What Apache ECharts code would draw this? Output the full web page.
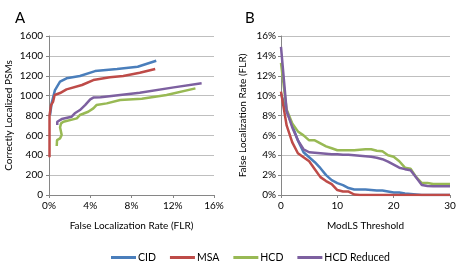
<!DOCTYPE html>
<html lang="en" style="height: 100%">
<head>
<meta charset="utf-8">
<title>FLR charts</title>
</head>
<body style="height: 100%; margin: 0; background: #fff">
<div id="container" style="width: 468px; height: 266px"></div>
<script type="text/javascript" src="https://cdn.jsdelivr.net/npm/echarts@6/dist/echarts.min.js"></script>
<script type="text/javascript">
// Panel A: [FLR %, correctly localized PSMs]
var cidA = [[0.1, 805], [0.26, 925], [0.58, 1056], [1.07, 1140], [1.7, 1174], [3.0, 1197], [4.47, 1247], [6.6, 1268], [8.6, 1290], [10.4, 1351]];
var msaA = [[0.05, 380], [0.05, 800], [0.2, 905], [0.4, 940], [0.55, 1006], [1.07, 1026], [1.7, 1063], [3.2, 1107], [4.3, 1157], [5.9, 1184], [7.2, 1197], [8.8, 1230], [10.3, 1268]];
var hcdA = [[0.75, 493], [0.78, 553], [1.07, 570], [1.23, 604], [1.07, 681], [1.17, 721], [1.4, 737], [2.7, 771], [3.0, 805], [3.8, 838], [4.3, 872], [4.6, 905], [5.6, 922], [6.9, 956], [9.0, 969], [11.4, 1006], [14.2, 1073]];
var hcdRedA = [[0.8, 704], [0.8, 737], [1.23, 764], [2.2, 788], [2.5, 822], [3.0, 855], [3.5, 905], [4.0, 963], [4.3, 980], [5.0, 983], [8.8, 1029], [12.1, 1083], [14.8, 1124]];

// Panel B: FLR % at ModLS threshold 0..30
var thresholds = [];
for (var t = 0; t <= 30; t++) thresholds.push(t);
var cidB = [10.2, 8.4, 7.0, 5.5, 4.3, 3.8, 3.3, 2.7, 2.0, 1.5, 1.2, 1.0, 0.7, 0.55, 0.55, 0.55, 0.5, 0.45, 0.45, 0.35, 0.25, 0.25, 0.15, 0.1, 0.05, 0, 0, 0, 0, 0, 0];
var msaB = [10.4, 7.0, 5.3, 4.2, 3.8, 3.4, 2.6, 1.8, 1.4, 1.1, 0.5, 0.35, 0.35, 0.05, 0, 0, 0, 0, 0, 0, 0, 0, 0, 0, 0, 0, 0, 0, 0, 0, 0];
var hcdB = [13.3, 8.6, 7.2, 6.4, 6.0, 5.5, 5.5, 5.2, 4.9, 4.7, 4.5, 4.5, 4.5, 4.5, 4.55, 4.6, 4.6, 4.45, 4.4, 4.0, 3.85, 3.4, 2.75, 2.65, 1.8, 1.2, 1.2, 1.1, 1.1, 1.1, 1.1];
var hcdRedB = [14.9, 8.5, 6.8, 5.5, 4.6, 4.3, 4.25, 4.2, 4.15, 4.1, 4.1, 4.05, 4.05, 4.0, 3.95, 3.9, 3.85, 3.75, 3.6, 3.35, 3.05, 2.75, 2.6, 2.5, 1.75, 1.0, 0.9, 0.88, 0.88, 0.88, 0.88];

var names = ['CID', 'MSA', 'HCD', 'HCD Reduced'];
var colors = ['#4a7ebb', '#be4b48', '#98b954', '#7d60a0'];

var FONT = 'Lato';
var txt = { color: '#000', fontFamily: FONT, fontSize: 10 };

function pairs(ys) {
    return ys.map(function (y, i) { return [thresholds[i], y]; });
}

function axisBase(extra) {
    var a = {
        type: 'value',
        axisLine: { show: true, lineStyle: { color: '#868686', width: 1 } },
        axisTick: { show: true, length: 3, lineStyle: { color: '#868686' } },
        axisLabel: Object.assign({ margin: 5 }, txt),
        nameTextStyle: Object.assign({}, txt),
        splitLine: { show: false }
    };
    return Object.assign(a, extra);
}

var dom = document.getElementById('container');
var myChart = echarts.init(dom, null, { renderer: 'canvas' });

var seriesA = [cidA, msaA, hcdA, hcdRedA];
var seriesB = [cidB, msaB, hcdB, hcdRedB];
var series = [];
names.forEach(function (n, i) {
    series.push({
        name: n, type: 'line', xAxisIndex: 0, yAxisIndex: 0,
        data: seriesA[i], showSymbol: false, symbol: 'none',
        lineStyle: { width: 2.5, color: colors[i] }, itemStyle: { color: colors[i] }
    });
});
names.forEach(function (n, i) {
    series.push({
        name: n, type: 'line', xAxisIndex: 1, yAxisIndex: 1,
        data: pairs(seriesB[i]), showSymbol: false, symbol: 'none',
        lineStyle: { width: 2.5, color: colors[i] }, itemStyle: { color: colors[i] }
    });
});

var option = {
    animation: false,
    color: colors,
    title: [
        { text: 'A', left: 10, top: 6, textStyle: { fontFamily: FONT, fontSize: 15, fontWeight: 'normal', color: '#000' } },
        { text: 'B', left: 240, top: 6, textStyle: { fontFamily: FONT, fontSize: 15, fontWeight: 'normal', color: '#000' } }
    ],
    legend: {
        top: 247, left: 106,
        icon: 'rect', itemWidth: 25, itemHeight: 3, itemGap: 14,
        textStyle: Object.assign({ padding: [0, 0, 0, -3] }, txt, { fontSize: 10.5 }),
        data: names
    },
    grid: [
        { left: 49, right: 254, top: 36, bottom: 71 },
        { left: 281, right: 18, top: 36, bottom: 71 }
    ],
    xAxis: [
        axisBase({
            gridIndex: 0, min: 0, max: 16, interval: 4,
            name: 'False Localization Rate (FLR)', nameLocation: 'middle', nameGap: 26,
            axisLabel: Object.assign({ margin: 6, formatter: '{value}%' }, txt)
        }),
        axisBase({
            gridIndex: 1, min: 0, max: 30, interval: 10,
            name: 'ModLS Threshold', nameLocation: 'middle', nameGap: 26,
            axisLabel: Object.assign({ margin: 6 }, txt)
        })
    ],
    yAxis: [
        axisBase({
            gridIndex: 0, min: 0, max: 1600, interval: 200,
            name: 'Correctly Localized PSMs', nameLocation: 'middle', nameGap: 35,
            axisLabel: Object.assign({ margin: 6, formatter: function (v) { return String(v); } }, txt),
            splitLine: { show: true, lineStyle: { color: '#bfbfbf', width: 1 } }
        }),
        axisBase({
            gridIndex: 1, min: 0, max: 16, interval: 2,
            name: 'False Localization Rate (FLR)', nameLocation: 'middle', nameGap: 33,
            axisLabel: Object.assign({ margin: 5, formatter: '{value}%' }, txt),
            splitLine: { show: true, lineStyle: { color: '#bfbfbf', width: 1 } }
        })
    ],
    series: series
};

myChart.setOption(option);
window.addEventListener('resize', myChart.resize);
</script>
</body>
</html>
